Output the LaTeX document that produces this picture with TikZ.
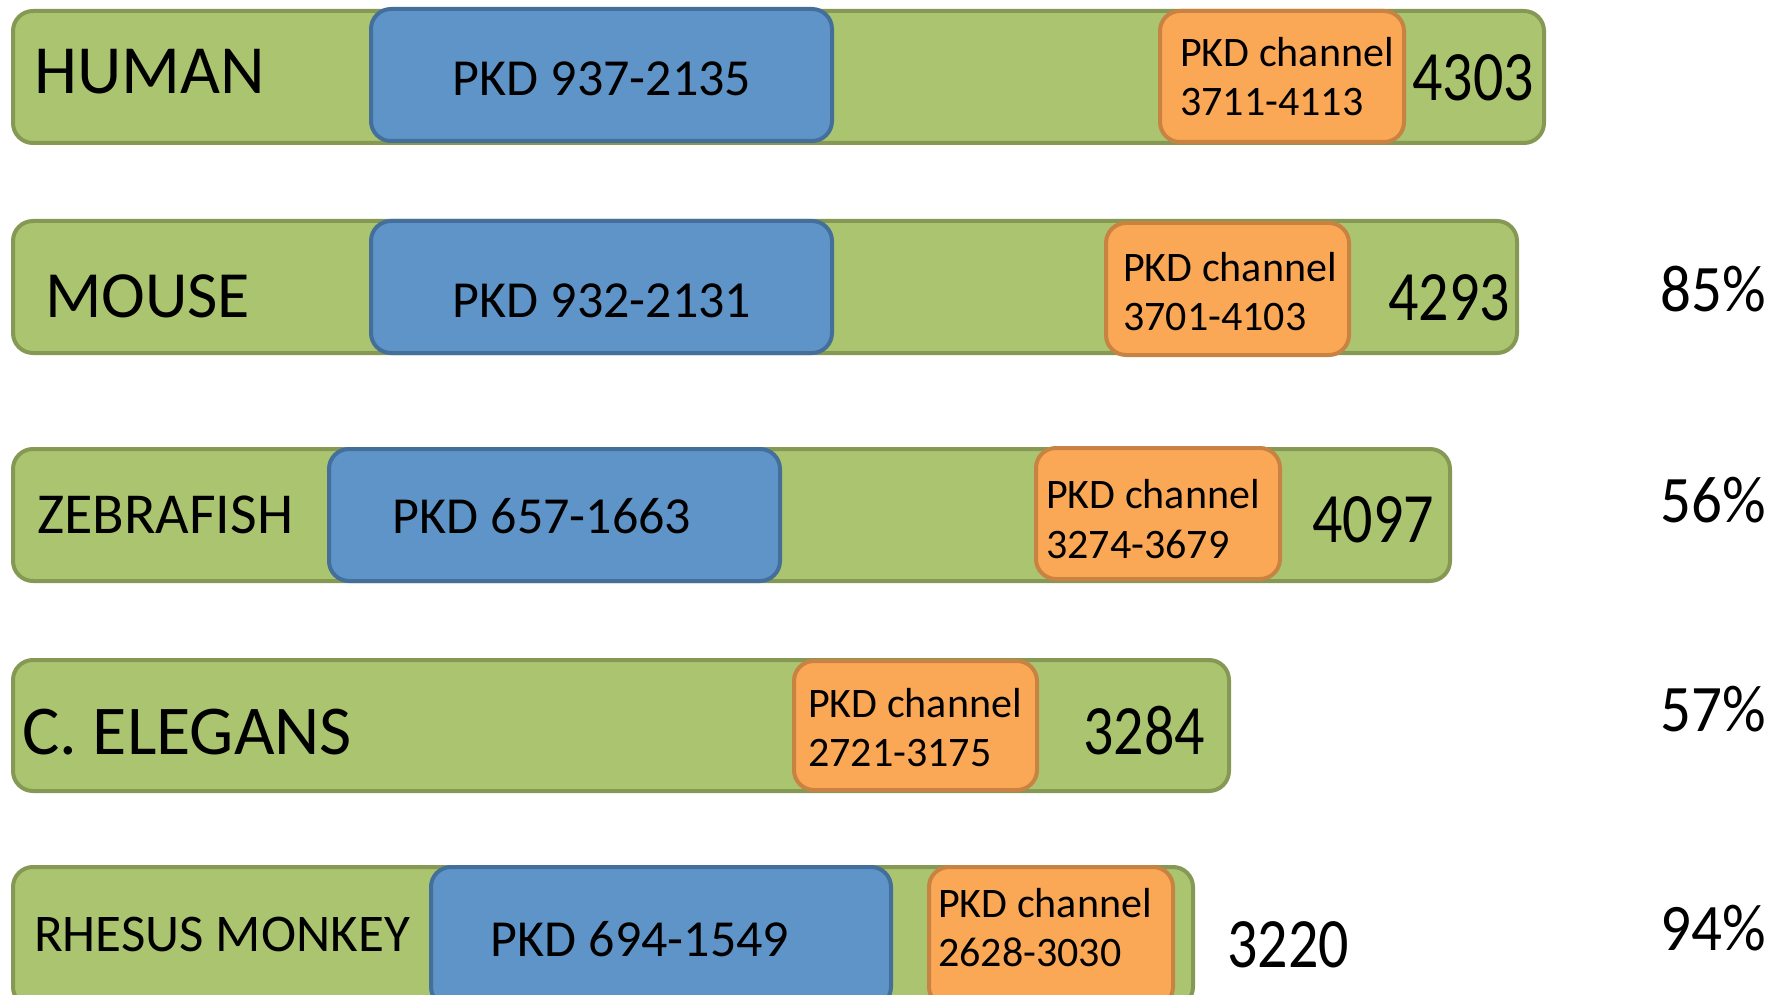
\documentclass[tikz,border=0pt]{standalone}
\usepackage{graphicx}
\usepackage{fontspec}
\setmainfont{Carlito}
\definecolor{gfill}{RGB}{171,196,111}
\definecolor{gline}{RGB}{134,153,84}
\definecolor{bfill}{RGB}{95,148,200}
\definecolor{bline}{RGB}{68,111,155}
\definecolor{ofill}{RGB}{250,168,86}
\definecolor{oline}{RGB}{200,130,65}
\newcommand{\tallnum}[1]{\scalebox{1}[1.18]{#1}}
\newcommand{\tallpct}[1]{\scalebox{1}[1.09]{#1}}
\tikzset{
  box/.style={rounded corners=20pt, line width=4pt, anchor=north west, inner sep=0pt},
  bar/.style={box, fill=gfill, draw=gline},
  pkd/.style={box, fill=bfill, draw=bline},
  chan/.style={box, fill=ofill, draw=oline},
  txt/.style={inner sep=0pt, anchor=base west},
  spec/.style={txt, font=\fontsize{#1}{#1}\selectfont},
  dom/.style={inner sep=0pt, anchor=base, font=\fontsize{52}{52}\selectfont},
  ctxt/.style={txt, font=\fontsize{42}{42}\selectfont},
  num/.style={txt, font=\fontsize{60}{60}\selectfont},
  pct/.style={txt, font=\fontsize{61}{61}\selectfont},
}
\begin{document}
\begin{tikzpicture}[x=1pt,y=-1pt]
\useasboundingbox (0,0) rectangle (1781,995);
\clip (0,0) rectangle (1781,995);
% HUMAN
\node[bar, minimum width=1531pt, minimum height=132pt] (hbar) at (11,9) {};
\node[pkd, minimum width=461pt, minimum height=132pt] (hpkd) at (369,7) {};
\node[chan, minimum width=244pt, minimum height=131pt] (hch) at (1158,9) {};
\node[spec=69] (hname) at (34,94) {HUMAN};
\node[dom] (hdom) at (602,96) {PKD 937-2135};
\node[ctxt] (hc1) at (1180,67) {PKD channel};
\node[ctxt] (hc2) at (1180,116) {3711-4113};
\node[num] (hlen) at (1412,101) {\tallnum{4303}};
% MOUSE
\node[bar, minimum width=1504pt, minimum height=132pt] (mbar) at (11,219) {};
\node[pkd, minimum width=461pt, minimum height=132pt] (mpkd) at (369,219) {};
\node[chan, minimum width=243pt, minimum height=132pt] (mch) at (1104,221) {};
\node[spec=66] (mname) at (45,317) {MOUSE};
\node[dom] (mdom) at (602,317) {PKD 932-2131};
\node[ctxt] (mc1) at (1123,281) {PKD channel};
\node[ctxt] (mc2) at (1123,330) {3701-4103};
\node[num] (mlen) at (1388,320) {\tallnum{4293}};
\node[pct] (mpct) at (1660,312) {\tallpct{85\%}};
% ZEBRAFISH
\node[bar, minimum width=1437pt, minimum height=132pt] (zbar) at (11,447) {};
\node[pkd, minimum width=451pt, minimum height=132pt] (zpkd) at (327,447) {};
\node[chan, minimum width=244pt, minimum height=131pt] (zch) at (1034,446) {};
\node[spec=58] (zname) at (37,533) {ZEBRAFISH};
\node[dom] (zdom) at (542,533) {PKD 657-1663};
\node[ctxt] (zc1) at (1046,508) {PKD channel};
\node[ctxt] (zc2) at (1046,558) {3274-3679};
\node[num] (zlen) at (1312,542) {\tallnum{4097}};
\node[pct] (zpct) at (1660,522) {\tallpct{56\%}};
% C. ELEGANS
\node[bar, minimum width=1216pt, minimum height=131pt] (cbar) at (11,658) {};
\node[chan, minimum width=243pt, minimum height=129pt] (cch) at (792,659) {};
\node[spec=70] (cname) at (22,754) {C. ELEGANS};
\node[ctxt] (cc1) at (808,717) {PKD channel};
\node[ctxt] (cc2) at (808,766) {2721-3175};
\node[num] (clen) at (1083,754) {\tallnum{3284}};
\node[pct] (cpct) at (1660,731) {\tallpct{57\%}};
% RHESUS MONKEY
\node[bar, minimum width=1180pt, minimum height=140pt] (rbar) at (11,865) {};
\node[pkd, minimum width=460pt, minimum height=140pt] (rpkd) at (429,865) {};
\node[chan, minimum width=244pt, minimum height=140pt] (rch) at (927,865) {};
\node[spec=53] (rname) at (34,951) {RHESUS MONKEY};
\node[dom] (rdom) at (640,956) {PKD 694-1549};
\node[ctxt] (rc1) at (938,917) {PKD channel};
\node[ctxt] (rc2) at (938,966) {2628-3030};
\node[num] (rlen) at (1227,967) {\tallnum{3220}};
\node[pct] (rpct) at (1660,950) {\tallpct{94\%}};
\end{tikzpicture}
\end{document}
